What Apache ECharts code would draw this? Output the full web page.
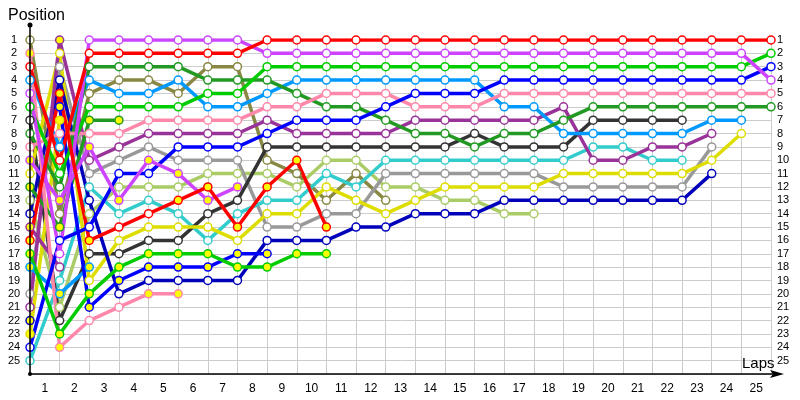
<!DOCTYPE html>
<html><head><meta charset="utf-8">
<script src="https://cdn.jsdelivr.net/npm/echarts@6/dist/echarts.min.js"></script>
<style>html,body{margin:0;padding:0;background:#fff}#c{width:800px;height:400px}</style>
</head><body><div id="c"></div>
<script>
// Lap tick labels (shown centred between lap grid lines) and position ticks
const lapLabels = ['1','2','3','4','5','6','7','8','9','10','11','12','13','14','15','16','17','18','19','20','21','22','23','24','25'];
const positionTicks = [1,2,3,4,5,6,7,8,9,10,11,12,13,14,15,16,17,18,19,20,21,22,23,24,25];

// Position per lap (index 0 = grid / start; null = no point)
const redA      = [3,10,2,2,2,2,2,2,1,1,1,1,1,1,1,1,1,1,1,1,1,1,1,1,1,1];
const redB      = [16,5,16,15,14,13,12,15,12,10,15];
const magentaA  = [5,17,1,1,1,1,1,1,2,2,2,2,2,2,2,2,2,2,2,2,2,2,2,2,2,4];
const magentaB  = [10,13,9,13,10,11,13,12];
const greenA    = [6,11,6,6,6,6,5,5,3,3,3,3,3,3,3,3,3,3,3,3,3,3,3,3,3,2];
const greenB    = [17,23,20,18,17,17,17,18,18,17,17];
const blueA     = [24,16,15,11,11,9,9,9,8,7,7,7,6,5,5,5,4,4,4,4,4,4,4,4,4,3];
const blueB     = [null,6,21,19,18,18,18,17,17];
const pinkA     = [9,8,8,8,7,7,7,7,6,6,5,5,5,6,6,6,5,5,5,5,5,5,5,5,5,5];
const pinkB     = [2,24,22,21,20,20];
const dkgreenA  = [8,12,3,3,3,3,4,4,4,5,6,6,7,8,8,9,8,8,7,6,6,6,6,6,6,6];
const dkgreenB  = [12,15,7,7];
const ltblueA   = [4,9,4,5,5,4,6,6,5,4,4,4,4,4,4,4,6,6,8,8,8,8,8,7,7];
const ltblueB   = [18,20,18];
const dkpurpleA = [21,1,10,9,8,8,8,8,7,8,8,8,8,7,7,7,7,7,6,10,10,9,9,8];
const dkpurpleB = [15,18];
const grayA     = [20,3,11,10,9,10,10,10,15,15,14,14,11,11,11,11,11,11,12,12,12,12,12,9];
const cyanA     = [25,19,12,14,13,14,16,14,13,13,11,12,10,10,10,10,10,10,10,9,9,10,10];
const dkblueA   = [14,4,13,20,19,19,19,19,16,16,16,15,15,14,14,14,13,13,13,13,13,13,13,11];
const dkblueB   = [22];
const ltgreenA  = [13,21,14,12,12,12,11,11,11,12,10,10,12,12,13,13,14,14];
const dkgrayA   = [7,22,17,17,16,16,14,13,9,9,9,9,9,9,9,8,9,9,9,7,7,7,7];
const yellowA   = [11,2,19,16,15,15,15,16,14,14,12,13,14,13,12,12,12,12,11,11,11,11,11,10,8];
const yellowB   = [23,7];
const oliveA    = [1,14,5,4,4,5,3,3,10,11,13,11,13];

// Laps whose marker is drawn filled yellow
const redBPits = [0,1,2,5,6,7,8,9,10];
const magentaBPits = [0,1,2,3,4,5,6,7];
const greenBPits = [0,1,2,3,4,5,6,7,8,9,10];
const blueBPits = [1,2,3,4,5,6,7,8];
const pinkBPits = [0,1,4,5];
const dkgreenBPits = [0,1,2,3];
const ltblueBPits = [0,1,2];
const dkpurpleAPits = [1];
const dkpurpleBPits = [0];
const dkblueBPits = [0];
const yellowBPits = [0,1];

const drivers = [
  ['olive', '#888844', oliveA, []],
  ['ltgreen', '#aacc66', ltgreenA, []],
  ['gray', '#999999', grayA, []],
  ['cyan', '#33cccc', cyanA, []],
  ['dkgray', '#333333', dkgrayA, []],
  ['yellowB', '#dddd00', yellowB, yellowBPits],
  ['yellowA', '#dddd00', yellowA, []],
  ['dkblueB', '#0000bb', dkblueB, dkblueBPits],
  ['dkblueA', '#0000bb', dkblueA, []],
  ['dkpurpleB', '#993399', dkpurpleB, dkpurpleBPits],
  ['dkpurpleA', '#993399', dkpurpleA, dkpurpleAPits],
  ['ltblueB', '#0099ff', ltblueB, ltblueBPits],
  ['ltblueA', '#0099ff', ltblueA, []],
  ['dkgreenB', '#229922', dkgreenB, dkgreenBPits],
  ['dkgreenA', '#229922', dkgreenA, []],
  ['pinkB', '#ff88aa', pinkB, pinkBPits],
  ['pinkA', '#ff88aa', pinkA, []],
  ['blueB', '#0000ff', blueB, blueBPits],
  ['blueA', '#0000ff', blueA, []],
  ['greenB', '#00cc00', greenB, greenBPits],
  ['greenA', '#00cc00', greenA, []],
  ['magentaB', '#cc44ff', magentaB, magentaBPits],
  ['magentaA', '#cc44ff', magentaA, []],
  ['redB', '#ff0000', redB, redBPits],
  ['redA', '#ff0000', redA, []]
];

const series = drivers.map(([name, color, pos, pits]) => ({
  name, type: 'line', xAxisIndex: 0, yAxisIndex: 0,
  symbol: 'circle', symbolSize: 8, showAllSymbol: true,
  lineStyle: {color, width: 3.5},
  itemStyle: {color: '#ffffff', borderColor: color, borderWidth: 1.5},
  emphasis: {disabled: true},
  data: pos.map((p, i) => p === null ? null : (pits.includes(i)
    ? {value: [i, p], itemStyle: {color: '#ffff00', borderColor: color, borderWidth: 1.5}}
    : {value: [i, p]})).filter(d => d !== null)
}));

const labelFont = {color: '#000', fontFamily: 'Liberation Sans', fontSize: 11};
const chart = echarts.init(document.getElementById('c'), null, {renderer: 'canvas'});
chart.setOption({
  animation: false,
  backgroundColor: '#fff',
  title: {text: 'Position', left: 3, top: 3, textStyle: {fontFamily: 'Liberation Sans', fontSize: 16, fontWeight: 'normal', color: '#000'}},
  grid: {left: 30, right: 29, top: 40, bottom: 26},
  xAxis: [
    {type: 'value', min: 0, max: lapLabels.length, interval: 1,
     axisLine: {show: false}, axisTick: {show: false}, axisLabel: {show: false},
     splitLine: {show: true, lineStyle: {color: '#cccccc', width: 1}}},
    {type: 'category', data: lapLabels, boundaryGap: true, position: 'bottom',
     axisLine: {show: false}, axisTick: {show: false}, splitLine: {show: false},
     axisLabel: {color: '#000', fontFamily: 'Liberation Sans', fontSize: 12, margin: 9}}
  ],
  yAxis: [
    {type: 'value', inverse: true, min: 1, max: positionTicks.length + 1, interval: 1, position: 'left',
     axisLine: {show: false}, axisTick: {show: false},
     axisLabel: Object.assign({align: 'center', margin: 16, formatter: v => positionTicks.includes(v) ? String(v) : ''}, labelFont),
     splitLine: {show: true, lineStyle: {color: '#cccccc', width: 1}}},
    {type: 'value', inverse: true, min: 1, max: positionTicks.length + 1, interval: 1, position: 'right',
     axisLine: {show: false}, axisTick: {show: false}, splitLine: {show: false},
     axisLabel: Object.assign({align: 'left', margin: 6, formatter: v => positionTicks.includes(v) ? String(v) : ''}, labelFont)}
  ],
  graphic: [
    {type: 'line', z: 100, shape: {x1: 30, y1: 374, x2: 30, y2: 25}, style: {stroke: '#000', lineWidth: 1.5}},
    {type: 'circle', z: 100, shape: {cx: 30, cy: 25, r: 2.5}, style: {fill: '#000'}},
    {type: 'circle', z: 100, shape: {cx: 30, cy: 374, r: 2}, style: {fill: '#000'}},
    {type: 'line', z: 100, shape: {x1: 30, y1: 374, x2: 776, y2: 374}, style: {stroke: '#000', lineWidth: 1.5}},
    {type: 'polygon', z: 100, shape: {points: [[784, 374], [770, 370], [773, 374], [770, 378]]}, style: {fill: '#000'}},
    {type: 'text', z: 100, left: 742, top: 356, style: {text: 'Laps', fontFamily: 'Liberation Sans', fontSize: 15, fill: '#000'}}
  ],
  series
});
</script></body></html>
